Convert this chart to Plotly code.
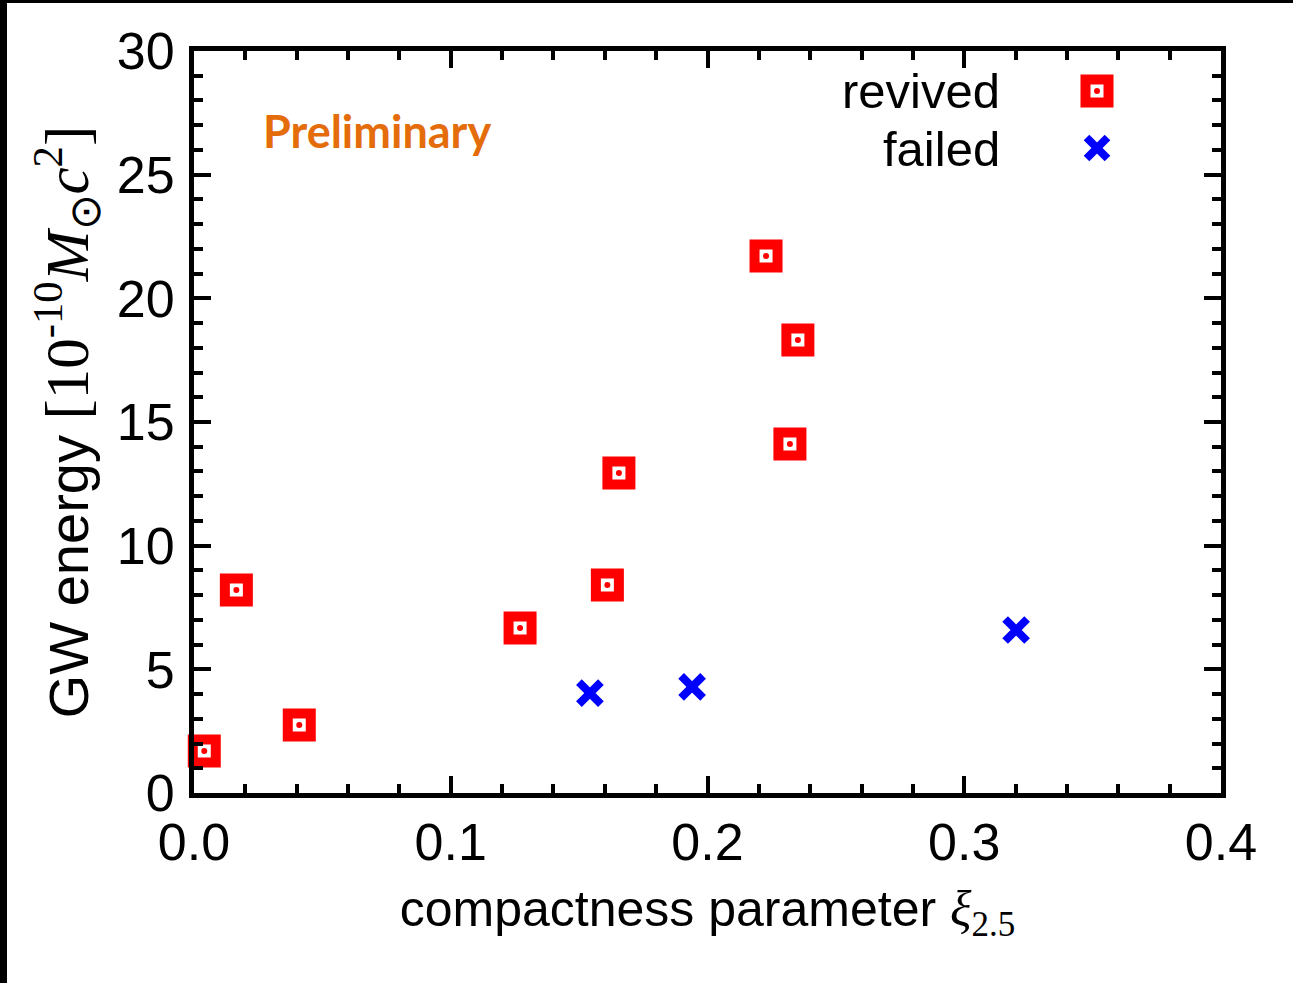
import plotly.graph_objects as go

# Compactness parameter xi_2.5 and radiated GW energy [1e-10 Msun c^2]
revived_xi = [0.004, 0.0165, 0.041, 0.127, 0.161, 0.1655, 0.2228, 0.2352, 0.2321]
revived_egw = [1.70, 8.21, 2.75, 6.67, 8.41, 12.94, 21.71, 18.32, 14.11]

failed_xi = [0.1542, 0.194, 0.3202]
failed_egw = [4.04, 4.29, 6.59]

x_range = [0.0, 0.4]
y_range = [0, 30]

W, H = 1293, 983
ML, MR, MT, MB = 194, 72, 51, 190
PW, PH = W - ML - MR, H - MT - MB

RED = "#ff0000"
BLUE = "#0000ff"
FONT = "Liberation Sans, Arial, sans-serif"


def px_x(p):
    return (p - ML) / PW


def px_y(p):
    return (H - MB - p) / PH


fig = go.Figure()

# revived: thick red square frame with a small red dot in the middle
fig.add_trace(go.Scatter(
    x=revived_xi, y=revived_egw, mode="markers", name="revived",
    marker=dict(symbol="square-open", size=23, color=RED,
                line=dict(width=10, color=RED)),
    cliponaxis=False, showlegend=False, hoverinfo="x+y",
))
fig.add_trace(go.Scatter(
    x=revived_xi, y=revived_egw, mode="markers", name="revived",
    marker=dict(symbol="circle", size=6, color=RED, line=dict(width=0)),
    cliponaxis=False, showlegend=False, hoverinfo="skip",
))
# failed: bold blue crosses
fig.add_trace(go.Scatter(
    x=failed_xi, y=failed_egw, mode="markers", name="failed",
    marker=dict(symbol="x-thin", size=22, color=BLUE,
                line=dict(width=8, color=BLUE)),
    cliponaxis=False, showlegend=False, hoverinfo="x+y",
))

axis_common = dict(
    showline=True, linewidth=5, linecolor="black", mirror="ticks",
    ticks="inside", ticklen=17, tickwidth=4, tickcolor="black",
    showgrid=False, zeroline=False,
    tickfont=dict(family=FONT, size=52, color="black"),
)

fig.update_xaxes(
    range=x_range, dtick=0.1, tickformat=".1f",
    minor=dict(dtick=0.02, ticks="inside", ticklen=9, tickwidth=4,
               tickcolor="black", showgrid=False),
    title=dict(
        text='compactness parameter <span style="font-family:Liberation Serif">'
             '<i>ξ</i><sub>2.5</sub></span>',
        font=dict(family=FONT, size=50, color="black"), standoff=22),
    **axis_common,
)
fig.update_yaxes(
    range=y_range, dtick=5, ticklabelstandoff=4,
    minor=dict(dtick=1, ticks="inside", ticklen=9, tickwidth=4,
               tickcolor="black", showgrid=False),
    title=dict(
        text='GW energy <span style="font-family:Liberation Serif;font-size:61px">'
             '[10<sup>-10</sup><i>M</i><sub>⊙</sub><i>c</i><sup>2</sup>]</span>',
        font=dict(family=FONT, size=56, color="black"), standoff=12),
    **axis_common,
)

shapes = []
# legend keys
sq_x, sq_y = px_x(1097), px_y(91)
shapes.append(dict(type="rect", xref="paper", yref="paper",
                   xsizemode="pixel", ysizemode="pixel",
                   xanchor=sq_x, yanchor=sq_y,
                   x0=-11.5, x1=11.5, y0=-11.5, y1=11.5,
                   line=dict(color=RED, width=10), fillcolor="white"))
shapes.append(dict(type="circle", xref="paper", yref="paper",
                   xsizemode="pixel", ysizemode="pixel",
                   xanchor=sq_x, yanchor=sq_y,
                   x0=-3, x1=3, y0=-3, y1=3,
                   line=dict(width=0), fillcolor=RED))
cx_x, cx_y = px_x(1097), px_y(148)
for sgn in (1, -1):
    shapes.append(dict(type="line", xref="paper", yref="paper",
                       xsizemode="pixel", ysizemode="pixel",
                       xanchor=cx_x, yanchor=cx_y,
                       x0=-10.5, x1=10.5, y0=-10.5 * sgn, y1=10.5 * sgn,
                       line=dict(color=BLUE, width=8)))
# black frame strips along the top and left edges of the page
shapes.append(dict(type="rect", xref="paper", yref="paper",
                   x0=px_x(-2), x1=px_x(7), y0=px_y(H + 2), y1=px_y(-2),
                   line=dict(width=0), fillcolor="black", layer="above"))
shapes.append(dict(type="rect", xref="paper", yref="paper",
                   x0=px_x(-2), x1=px_x(W + 2), y0=px_y(3), y1=px_y(-2),
                   line=dict(width=0), fillcolor="black", layer="above"))

annotations = [
    dict(text="revived", xref="paper", yref="paper", x=px_x(1002), y=px_y(91),
         xanchor="right", yanchor="middle", showarrow=False,
         font=dict(family=FONT, size=49, color="black")),
    dict(text="failed", xref="paper", yref="paper", x=px_x(1002), y=px_y(149),
         xanchor="right", yanchor="middle", showarrow=False,
         font=dict(family=FONT, size=49, color="black")),
    dict(text="<b>Preliminary</b>", xref="paper", yref="paper",
         x=px_x(261), y=px_y(131), xanchor="left", yanchor="middle",
         showarrow=False, font=dict(family="Lato, Open Sans, sans-serif",
                                    size=45, color="#E46C0A")),
]

fig.update_layout(
    width=W, height=H,
    margin=dict(l=ML, r=MR, t=MT, b=MB, autoexpand=False),
    paper_bgcolor="white", plot_bgcolor="white",
    showlegend=False,
    shapes=shapes, annotations=annotations,
)

fig.write_html("out.html")
